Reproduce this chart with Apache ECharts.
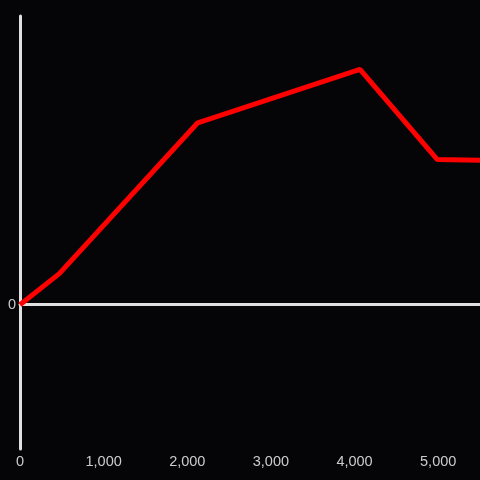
<!DOCTYPE html>
<html>
<head>
<meta charset="utf-8">
<script src="https://cdn.jsdelivr.net/npm/echarts@6/dist/echarts.min.js"></script>
<style>
  html, body { margin: 0; padding: 0; background: #050407; }
  #chart { width: 480px; height: 480px; }
</style>
</head>
<body>
<div id="chart"></div>
<script>
// data
const xValues = [0, 470, 2125, 4065, 4990, 5500];
const yValues = [0, 21.5, 126, 163, 100.5, 100];
const xTicks = [0, 1000, 2000, 3000, 4000, 5000];

const chart = echarts.init(document.getElementById("chart"));

const axisColor = "#e0e0e0";
const labelFont = "Liberation Sans";

const option = {
  backgroundColor: "#050407",
  animation: false,
  grid: { left: 20, right: 0, top: 16, bottom: 31, containLabel: false },
  xAxis: [
    {
      type: "value",
      min: 0,
      max: 5500,
      interval: 1000,
      axisLine: { show: false, onZero: false },
      axisTick: { show: false },
      splitLine: { show: false },
      axisLabel: {
        color: "#cccccc",
        fontSize: 14.5,
        fontFamily: labelFont,
        margin: 5,
        showMaxLabel: false,
        formatter: (v) => (xTicks.includes(v) ? v.toLocaleString("en-US") : ""),
      },
    },
    {
      type: "value",
      min: 0,
      max: 5500,
      position: "bottom",
      axisLine: { show: true, onZero: true, lineStyle: { color: axisColor, width: 3 } },
      axisTick: { show: false },
      axisLabel: { show: false },
      splitLine: { show: false },
    },
  ],
  yAxis: {
    type: "value",
    min: -100,
    max: 200,
    interval: 100,
    axisLine: { show: true, onZero: false, lineStyle: { color: axisColor, width: 3 } },
    axisTick: { show: false },
    splitLine: { show: false },
    axisLabel: {
      color: "#cccccc",
      fontSize: 14.5,
      fontFamily: labelFont,
      margin: 4,
      formatter: (v) => (v === 0 ? "0" : ""),
    },
  },
  series: [
    {
      type: "line",
      xAxisIndex: 0,
      data: xValues.map((x, i) => [x, yValues[i]]),
      showSymbol: false,
      lineStyle: { color: "#ff0000", width: 5 },
      itemStyle: { color: "#ff0000" },
      z: 1,
    },
    {
      type: "line",
      xAxisIndex: 1,
      data: [],
    },
  ],
};

chart.setOption(option);
</script>
</body>
</html>
